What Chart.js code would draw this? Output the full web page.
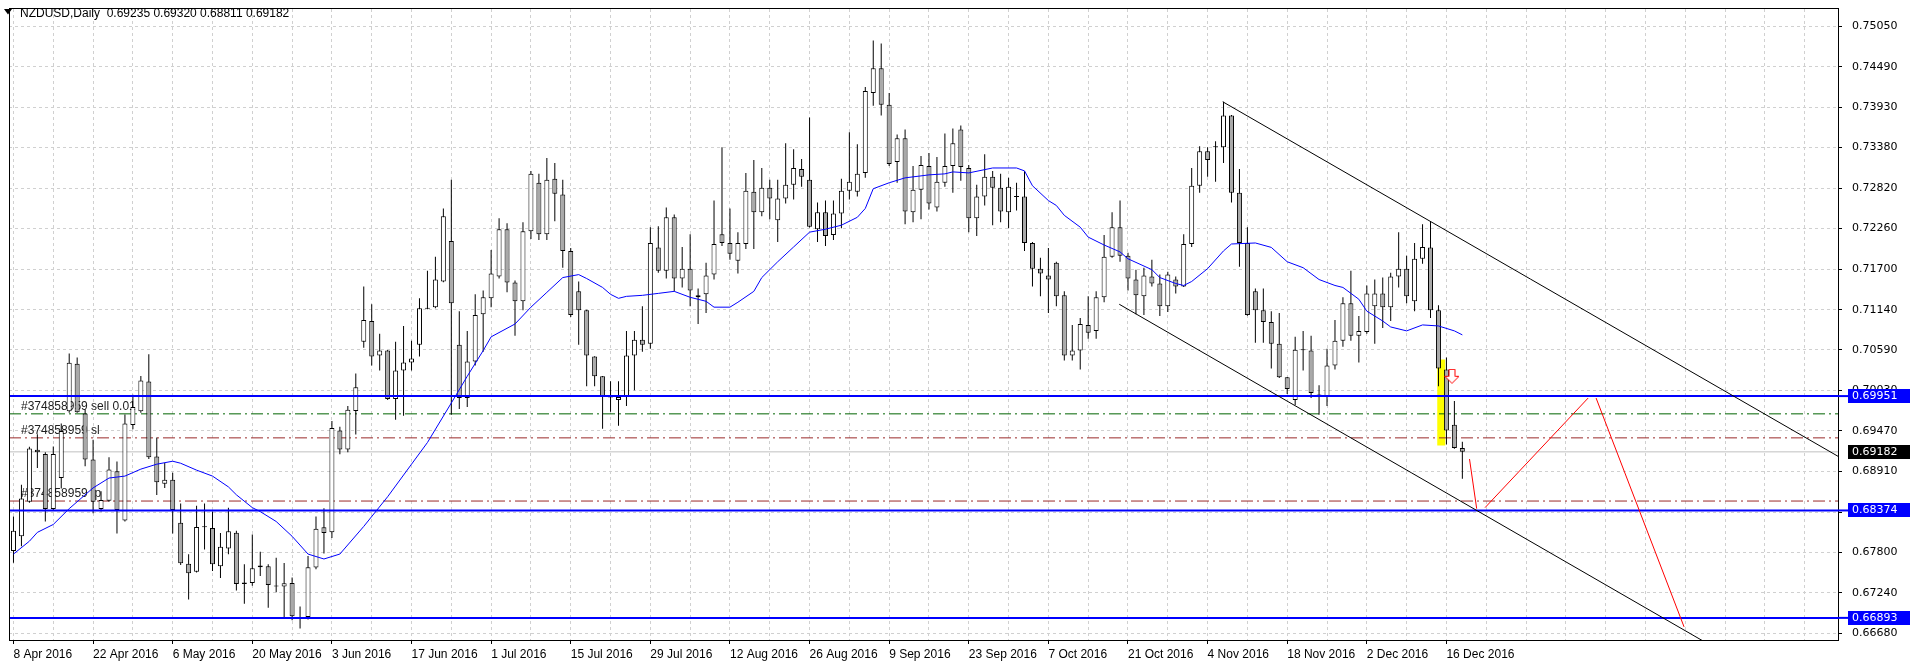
<!DOCTYPE html>
<html lang="en">
<head>
<meta charset="UTF-8">
<title>NZDUSD,Daily</title>
<script src="https://cdn.jsdelivr.net/npm/chart.js"></script>
<style>
  html, body { margin: 0; padding: 0; background: #fff; }
</style>
</head>
<body>
<canvas id="nzd" width="1910" height="668"></canvas>
<script>
// one slot per weekday, slot 0 = 8 Apr 2016, last bar (182) = 20 Dec 2016
const tickLabels = ['8 Apr 2016', '22 Apr 2016', '6 May 2016', '20 May 2016', '3 Jun 2016', '17 Jun 2016',
  '1 Jul 2016', '15 Jul 2016', '29 Jul 2016', '12 Aug 2016', '26 Aug 2016', '9 Sep 2016', '23 Sep 2016',
  '7 Oct 2016', '21 Oct 2016', '4 Nov 2016', '18 Nov 2016', '2 Dec 2016', '16 Dec 2016'];
const yTicks = [0.66680, 0.67240, 0.67800, 0.68350, 0.68910, 0.69470, 0.70030, 0.70590, 0.71140,
  0.71700, 0.72260, 0.72820, 0.73380, 0.73930, 0.74490, 0.75050];

const opens = [
  0.67814, 0.68018, 0.68495, 0.69212, 0.69152, 0.68395, 0.68821, 0.69743, 0.70397, 0.69710,
  0.69076, 0.68395, 0.68508, 0.68913, 0.68236, 0.69552, 0.69743, 0.70152, 0.69117, 0.68744,
  0.68798, 0.68205, 0.67641, 0.67528, 0.68150, 0.68131, 0.67606, 0.67851, 0.68068, 0.67360,
  0.67374, 0.67614, 0.67606, 0.67333, 0.67324, 0.67374, 0.66898, 0.66906, 0.67586, 0.68141,
  0.68072, 0.69475, 0.69216, 0.69747, 0.70700, 0.70986, 0.70510, 0.70578, 0.69911, 0.70305,
  0.70414, 0.70659, 0.71156, 0.71177, 0.71531, 0.72089, 0.70659, 0.69924, 0.70428, 0.71081,
  0.71299, 0.71599, 0.72252, 0.71517, 0.71258, 0.72225, 0.72892, 0.72184, 0.72947, 0.72729,
  0.71953, 0.71395, 0.71136, 0.70496, 0.70224, 0.69945, 0.69897, 0.69938, 0.70510, 0.70727,
  0.70673, 0.72001, 0.71680, 0.72416, 0.71572, 0.71708, 0.71313, 0.71354, 0.71626, 0.72184,
  0.72062, 0.71817, 0.72048, 0.72770, 0.72484, 0.72824, 0.72375, 0.72674, 0.72865, 0.73083,
  0.72933, 0.72252, 0.72484, 0.72171, 0.72470, 0.72783, 0.72770, 0.73028, 0.74131, 0.74472,
  0.73968, 0.73178, 0.73505, 0.72484, 0.72797, 0.73124, 0.72552, 0.72892, 0.73124, 0.73627,
  0.73096, 0.72402, 0.72702, 0.72974, 0.72824, 0.72484, 0.72708, 0.72702, 0.72062, 0.71708,
  0.71612, 0.71789, 0.71340, 0.70510, 0.70578, 0.70932, 0.70850, 0.71313, 0.71871, 0.72280,
  0.71885, 0.71558, 0.71326, 0.71599, 0.71503, 0.71190, 0.71558, 0.71463, 0.72048, 0.72851,
  0.73328, 0.73389, 0.73382, 0.73818, 0.72756, 0.72062, 0.71395, 0.71136, 0.70972, 0.70673,
  0.70210, 0.69897, 0.70598, 0.70578, 0.69972, 0.69951, 0.70373, 0.70714, 0.71231, 0.70782,
  0.70836, 0.71190, 0.71367, 0.71177, 0.71599, 0.71708, 0.71258, 0.71844, 0.72001, 0.71136,
  0.70319, 0.69556, 0.69235];
const highs = [
  0.68290, 0.68730, 0.69253, 0.69424, 0.69175, 0.69257, 0.69574, 0.70537, 0.70482, 0.69765,
  0.69348, 0.68640, 0.69107, 0.69049, 0.69697, 0.69969, 0.70228, 0.70527, 0.69380, 0.69030,
  0.68893, 0.68471, 0.67769, 0.68440, 0.68471, 0.68358, 0.68063, 0.68413, 0.68096, 0.67633,
  0.68041, 0.67804, 0.67633, 0.67722, 0.67650, 0.67450, 0.67051, 0.67746, 0.68290, 0.68403,
  0.69607, 0.69529, 0.69815, 0.70264, 0.71463, 0.71217, 0.70809, 0.70585, 0.70700, 0.70918,
  0.70714, 0.71299, 0.71680, 0.71871, 0.72538, 0.72933, 0.71122, 0.70850, 0.71354, 0.71408,
  0.71966, 0.72402, 0.72334, 0.71544, 0.72348, 0.73056, 0.73015, 0.73233, 0.73164, 0.72933,
  0.71994, 0.71531, 0.71140, 0.70500, 0.70228, 0.70156, 0.70156, 0.70850, 0.70850, 0.71190,
  0.72280, 0.72293, 0.72552, 0.72456, 0.72007, 0.72184, 0.71435, 0.71789, 0.72647, 0.73382,
  0.72538, 0.72211, 0.73028, 0.73205, 0.73096, 0.72933, 0.72933, 0.73437, 0.73355, 0.73219,
  0.73791, 0.72620, 0.72647, 0.72647, 0.72947, 0.73587, 0.73423, 0.74213, 0.74853, 0.74812,
  0.74131, 0.73559, 0.73627, 0.73124, 0.73260, 0.73301, 0.73246, 0.73573, 0.73641, 0.73682,
  0.73137, 0.72865, 0.73287, 0.73056, 0.73015, 0.72960, 0.72892, 0.73056, 0.72075, 0.71857,
  0.71994, 0.71803, 0.71395, 0.70932, 0.71027, 0.71326, 0.71395, 0.72171, 0.72484, 0.72647,
  0.71926, 0.71694, 0.71721, 0.71830, 0.71626, 0.71667, 0.71599, 0.72184, 0.73096, 0.73396,
  0.73382, 0.73464, 0.74009, 0.73825, 0.73083, 0.72280, 0.71435, 0.71435, 0.71122, 0.71095,
  0.70215, 0.70768, 0.70850, 0.70782, 0.70101, 0.70605, 0.71000, 0.71313, 0.71680, 0.71054,
  0.71476, 0.71558, 0.71585, 0.71653, 0.72211, 0.71885, 0.72062, 0.72320, 0.72361, 0.71204,
  0.70482, 0.69883, 0.69320];
const lows = [
  0.67654, 0.67882, 0.68481, 0.68961, 0.68222, 0.68381, 0.68676, 0.69720, 0.69720, 0.68985,
  0.68335, 0.68358, 0.68495, 0.68055, 0.68222, 0.69493, 0.69720, 0.69084, 0.68586, 0.68685,
  0.68055, 0.67623, 0.67147, 0.67518, 0.67837, 0.67541, 0.67442, 0.67769, 0.67269, 0.67088,
  0.67337, 0.67469, 0.67034, 0.67246, 0.66906, 0.66861, 0.66748, 0.66870, 0.67565, 0.67782,
  0.67995, 0.69148, 0.69175, 0.69420, 0.70618, 0.70373, 0.70305, 0.69897, 0.69625, 0.69679,
  0.70305, 0.70496, 0.71149, 0.71163, 0.71520, 0.69693, 0.69774, 0.69802, 0.70373, 0.70564,
  0.71177, 0.71572, 0.71381, 0.70782, 0.71136, 0.72116, 0.72103, 0.72103, 0.72361, 0.71721,
  0.71041, 0.70659, 0.70088, 0.70088, 0.69502, 0.69734, 0.69543, 0.69815, 0.70033, 0.70564,
  0.70605, 0.71653, 0.71572, 0.71395, 0.71449, 0.71190, 0.70945, 0.71095, 0.71558, 0.72021,
  0.71830, 0.71640, 0.71980, 0.71980, 0.72429, 0.72388, 0.72075, 0.72606, 0.72661, 0.72838,
  0.72275, 0.72075, 0.72021, 0.72103, 0.72266, 0.72661, 0.72702, 0.72960, 0.73954, 0.73818,
  0.73124, 0.72892, 0.72320, 0.72348, 0.72388, 0.72525, 0.72497, 0.72838, 0.72756, 0.72919,
  0.72211, 0.72157, 0.72579, 0.72307, 0.72348, 0.72266, 0.72511, 0.71953, 0.71463, 0.71326,
  0.71095, 0.71190, 0.70441, 0.70441, 0.70319, 0.70741, 0.70741, 0.71245, 0.71857, 0.71803,
  0.71408, 0.71081, 0.71068, 0.71463, 0.71054, 0.71109, 0.71367, 0.71455, 0.72007, 0.72756,
  0.72974, 0.72906, 0.73164, 0.72620, 0.71735, 0.71060, 0.70687, 0.70687, 0.70333, 0.70200,
  0.69979, 0.69829, 0.70305, 0.69924, 0.69693, 0.69815, 0.70319, 0.70632, 0.70714, 0.70414,
  0.70809, 0.70673, 0.70891, 0.70986, 0.71449, 0.71231, 0.71122, 0.71776, 0.71027, 0.70088,
  0.69284, 0.69225, 0.68811];
const closes = [
  0.68096, 0.68539, 0.69230, 0.69175, 0.68395, 0.69152, 0.69471, 0.70410, 0.69729, 0.69076,
  0.68495, 0.68518, 0.68940, 0.68381, 0.69574, 0.69802, 0.70165, 0.69107, 0.68763, 0.68798,
  0.68381, 0.67646, 0.67510, 0.68145, 0.68141, 0.67633, 0.67872, 0.68086, 0.67360, 0.67382,
  0.67578, 0.67592, 0.67347, 0.67324, 0.67369, 0.66915, 0.66892, 0.67592, 0.68123, 0.68063,
  0.69512, 0.69216, 0.69761, 0.70074, 0.71000, 0.70496, 0.70578, 0.69911, 0.70305, 0.70414,
  0.70469, 0.71163, 0.71167, 0.71558, 0.72429, 0.71231, 0.69924, 0.70428, 0.71068, 0.71313,
  0.71640, 0.72252, 0.71517, 0.71258, 0.72225, 0.73015, 0.72184, 0.72933, 0.72742, 0.71953,
  0.71068, 0.71136, 0.70510, 0.70224, 0.69938, 0.69931, 0.69938, 0.70510, 0.70727, 0.70659,
  0.72062, 0.71680, 0.72416, 0.71572, 0.71708, 0.71408, 0.71340, 0.71612, 0.72048, 0.72062,
  0.71912, 0.72062, 0.72783, 0.72484, 0.72824, 0.72674, 0.72674, 0.72865, 0.73096, 0.72974,
  0.72285, 0.72484, 0.72157, 0.72470, 0.72783, 0.72906, 0.73015, 0.74158, 0.74472, 0.73968,
  0.73151, 0.73505, 0.72497, 0.72797, 0.73137, 0.72606, 0.72906, 0.73124, 0.73437, 0.73110,
  0.72402, 0.72702, 0.72974, 0.72824, 0.72497, 0.72838, 0.72695, 0.72062, 0.71708, 0.71640,
  0.71558, 0.71326, 0.70510, 0.70578, 0.70945, 0.70823, 0.71313, 0.71871, 0.72280, 0.71885,
  0.71572, 0.71340, 0.71612, 0.71503, 0.71190, 0.71626, 0.71463, 0.72048, 0.72851, 0.73328,
  0.73205, 0.73382, 0.73818, 0.72756, 0.72062, 0.71068, 0.71136, 0.70972, 0.70673, 0.70210,
  0.70047, 0.70591, 0.70584, 0.69992, 0.69958, 0.70373, 0.70714, 0.71231, 0.70782, 0.70850,
  0.71367, 0.71367, 0.71177, 0.71599, 0.71708, 0.71326, 0.71844, 0.72007, 0.71136, 0.70333,
  0.69475, 0.69235, 0.69182];

// blue moving average at these bar slots
const maIdx = [0, 2, 3, 5, 7, 10, 12, 14, 16, 18, 20, 21, 23, 25, 27, 28, 30, 31, 33, 35, 37, 39, 41,
  44, 47, 50, 52, 55, 57, 59, 60, 63, 65, 67, 69, 71, 72, 74, 75, 76, 77, 79, 81, 83, 85, 87, 88, 90,
  91, 93, 94, 96, 98, 100, 102, 104, 106, 107, 108, 110, 112, 114, 115, 117, 118, 120, 123, 126, 127,
  128, 130, 131, 132, 134, 135, 137, 139, 140, 143, 144, 146, 147, 148, 150, 152, 153, 156, 158, 160,
  162, 164, 166, 167, 169, 170, 172, 173, 175, 177, 179, 181, 182];
const maVal = [0.67773, 0.67950, 0.68072, 0.68181, 0.68399, 0.68685, 0.68821, 0.68848, 0.68944, 0.69012,
  0.69053, 0.69025, 0.68930, 0.68848, 0.68699, 0.68590, 0.68413, 0.68358, 0.68222, 0.68018, 0.67773,
  0.67705, 0.67773, 0.68154, 0.68563, 0.69012, 0.69311, 0.69856, 0.70224, 0.70578, 0.70768, 0.70945,
  0.71177, 0.71381, 0.71585, 0.71626, 0.71572, 0.71449, 0.71354, 0.71299, 0.71326, 0.71340, 0.71367,
  0.71395, 0.71313, 0.71258, 0.71177, 0.71177, 0.71245, 0.71395, 0.71585, 0.71803, 0.72007, 0.72211,
  0.72252, 0.72307, 0.72416, 0.72538, 0.72810, 0.72892, 0.72960, 0.72987, 0.73001, 0.73015, 0.73042,
  0.73028, 0.73096, 0.73096, 0.73056, 0.72851, 0.72647, 0.72579, 0.72443, 0.72280, 0.72143, 0.72034,
  0.71939, 0.71844, 0.71694, 0.71585, 0.71503, 0.71476, 0.71531, 0.71708, 0.71953, 0.72048, 0.72062,
  0.72001, 0.71803, 0.71721, 0.71558, 0.71476, 0.71449, 0.71286, 0.71122, 0.70986, 0.70904, 0.70850,
  0.70932, 0.70918, 0.70850, 0.70795];

// horizontal levels and the open order
const blueLevels = [0.69951, 0.68374, 0.66893];
const bidPrice = 0.69182;
const orderTags = ['#374858959 sell 0.01', '#374858959 sl', '#374858959 tp'];
const orderLevels = [0.69706, 0.69375, 0.68504];
const orderColors = ['#006400', '#9A2A2A', '#9A2A2A'];

// drawn objects: [slot, price] pairs
const channelTop = [[151.9, 0.74009], [229.2, 0.69120]];
const channelBottom = [[138.9, 0.71217], [213, 0.66526]];
const redPath = [
  [[182.9, 0.69083], [183.8, 0.68399]],
  [[184.85, 0.68413], [197.8, 0.69924]],
  [[198.8, 0.69924], [209.85, 0.66769]]
];
const yellowBox = {slot: 179.35, from: 0.69270, to: 0.70455};
const sellArrow = {slot: 180.7, price: 0.70224};
const header = 'NZDUSD,Daily  0.69235 0.69320 0.68811 0.69182';

const xMin = -0.5625, xMax = 229.1875;
const yMin = 0.66588, yMax = 0.75288;

const bodyColors = opens.map((o, i) => closes[i] >= o ? '#FFFFFF' : '#A9A9A9');
const span = level => [{x: xMin, y: level}, {x: xMax, y: level}];
const pts = arr => arr.map(p => ({x: p[0], y: p[1]}));

// red outlined down arrow used as point style
const arrow = document.createElement('canvas');
arrow.width = 15; arrow.height = 15;
(function () {
  const a = arrow.getContext('2d');
  a.strokeStyle = '#FF0000'; a.fillStyle = '#FFFFFF'; a.lineWidth = 1;
  a.beginPath();
  a.moveTo(4.5, 0.5); a.lineTo(10.5, 0.5); a.lineTo(10.5, 7.5); a.lineTo(14.5, 7.5);
  a.lineTo(7.5, 14.5); a.lineTo(0.5, 7.5); a.lineTo(4.5, 7.5); a.closePath();
  a.fill(); a.stroke();
})();

const lineBase = {type: 'line', pointRadius: 0, borderWidth: 1, fill: false, tension: 0};

const datasets = [
  Object.assign({}, lineBase, {data: [{x: sellArrow.slot, y: sellArrow.price}], order: 0, showLine: false, pointRadius: 8, pointStyle: arrow}),
  ...redPath.map(seg => Object.assign({}, lineBase, {data: pts(seg), borderColor: '#FF0000', order: 1})),
  Object.assign({}, lineBase, {data: pts(channelTop), borderColor: '#000000', order: 2}),
  Object.assign({}, lineBase, {data: pts(channelBottom), borderColor: '#000000', order: 2}),
  ...blueLevels.map(l => Object.assign({}, lineBase, {data: span(l), borderColor: '#0000FF', borderWidth: 2, order: 3})),
  Object.assign({}, lineBase, {data: maIdx.map((x, k) => ({x, y: maVal[k]})), borderColor: '#0000FF', order: 4}),
  {
    type: 'bar', order: 5, grouped: false, barThickness: 5, minBarLength: 1, inflateAmount: 0,
    data: opens.map((o, i) => ({x: i, y: [o, closes[i]]})),
    backgroundColor: bodyColors, borderColor: '#000000', borderWidth: 1, borderSkipped: false
  },
  {
    type: 'bar', order: 6, grouped: false, barThickness: 1, inflateAmount: 0,
    data: lows.map((l, i) => ({x: i, y: [l, highs[i]]})),
    backgroundColor: '#000000'
  },
  ...orderLevels.map((l, k) => Object.assign({}, lineBase, {data: span(l), borderColor: orderColors[k], borderDash: [12, 4, 2, 4], order: 7})),
  Object.assign({}, lineBase, {data: span(bidPrice), borderColor: '#C0C0C0', order: 8}),
  {
    type: 'bar', order: 9, grouped: false, barThickness: 8, inflateAmount: 0,
    data: [{x: yellowBox.slot, y: [yellowBox.from, yellowBox.to]}],
    backgroundColor: '#FFFF00'
  }
];

const axisFont = {family: '"DejaVu Sans", Verdana, sans-serif', size: 11};

const mt4Plugin = {
  id: 'mt4',
  beforeDatasetsDraw(chart) {
    // order comments sit behind the candles
    const {ctx, chartArea, scales: {y}} = chart;
    ctx.save();
    ctx.font = '12px "Liberation Sans", Arial, sans-serif';
    ctx.fillStyle = '#202020';
    ctx.textBaseline = 'bottom';
    orderTags.forEach((t, k) => ctx.fillText(t, chartArea.left + 12, y.getPixelForValue(orderLevels[k]) - 1));
    ctx.restore();
  },
  afterDraw(chart) {
    const {ctx, chartArea, scales: {y}} = chart;
    const W = chart.width;
    ctx.save();
    // frame
    ctx.strokeStyle = '#000'; ctx.lineWidth = 1;
    ctx.strokeRect(chartArea.left + 0.5, chartArea.top - 0.5, chartArea.right - chartArea.left, chartArea.bottom - chartArea.top + 1);
    // price boxes on the axis
    ctx.font = '11px "DejaVu Sans", Verdana, sans-serif';
    ctx.textBaseline = 'middle';
    const box = (price, bg) => {
      const py = Math.round(y.getPixelForValue(price));
      ctx.fillStyle = bg;
      ctx.fillRect(chartArea.right + 10, py - 7, W - chartArea.right - 10, 14);
      ctx.fillStyle = '#FFFFFF';
      ctx.fillText(price.toFixed(5), chartArea.right + 14, py + 0.5);
    };
    blueLevels.forEach(l => {
      const py = y.getPixelForValue(l);
      ctx.strokeStyle = '#0000FF'; ctx.lineWidth = 2;
      ctx.beginPath(); ctx.moveTo(chartArea.right, py); ctx.lineTo(chartArea.right + 10, py); ctx.stroke();
      box(l, '#0000FF');
    });
    box(bidPrice, '#000000');
    // header
    ctx.fillStyle = '#000';
    ctx.beginPath(); ctx.moveTo(4, 9); ctx.lineTo(12, 9); ctx.lineTo(8, 14.5); ctx.closePath(); ctx.fill();
    ctx.font = '12px "Liberation Sans", Arial, sans-serif';
    ctx.fillText(header, 20, 13.5);
    ctx.restore();
  }
};

new Chart(document.getElementById('nzd').getContext('2d'), {
  type: 'bar',
  data: {datasets},
  options: {
    responsive: false,
    animation: false,
    layout: {padding: {left: 0, top: 1, right: 0, bottom: 0}},
    plugins: {legend: {display: false}, tooltip: {enabled: false}},
    scales: {
      x: {
        type: 'linear', min: xMin, max: xMax, offset: false,
        grid: {offset: false, color: '#D0D0D0', drawTicks: true, tickLength: 4,
          tickColor: c => (c.tick && c.tick.value % 10 === 0 && c.tick.value <= 180) ? '#000' : 'rgba(0,0,0,0)'},
        border: {display: false, dash: [3, 3]},
        ticks: {
          autoSkip: false, maxRotation: 0, minRotation: 0, align: 'start', padding: 3, color: '#000',
          font: {family: '"Liberation Sans", Arial, sans-serif', size: 12},
          callback: v => (v % 10 === 0 && v / 10 < tickLabels.length) ? tickLabels[v / 10] : ''
        },
        afterBuildTicks: s => {
          const t = [];
          for (let i = 0; i <= 225; i += 5) t.push({value: i});
          s.ticks = t;
        },
        afterFit: s => { s.height = 28; s.paddingLeft = 0; s.paddingRight = 0; }
      },
      y: {
        type: 'linear', position: 'right', min: yMin, max: yMax, beginAtZero: false, bounds: 'data',
        grid: {color: '#D0D0D0', drawTicks: true, tickLength: 4, tickColor: '#000'},
        border: {display: false, dash: [3, 3]},
        ticks: {padding: 10, color: '#000', font: axisFont, callback: v => v.toFixed(5)},
        afterBuildTicks: s => { s.ticks = yTicks.map(v => ({value: v})); },
        afterFit: s => { s.width = 72; s.paddingTop = 0; s.paddingBottom = 0; }
      }
    }
  },
  plugins: [mt4Plugin]
});
</script>
</body>
</html>
